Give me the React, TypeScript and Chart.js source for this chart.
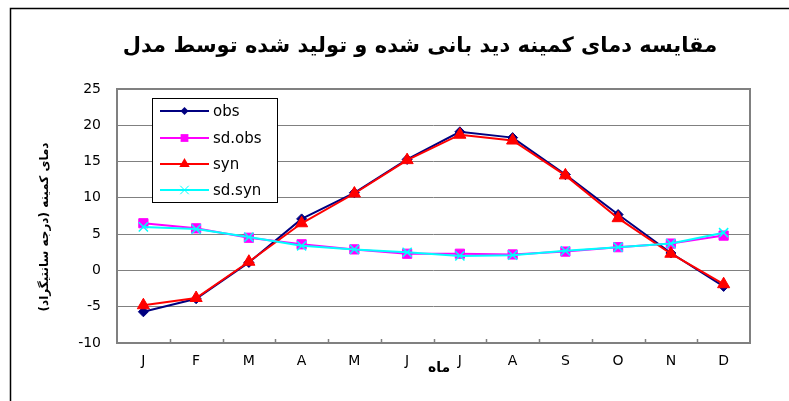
import React, { useEffect, useRef } from "react";
import { Chart, registerables } from "chart.js";

Chart.register(...registerables);

const months = ["J", "F", "M", "A", "M", "J", "J", "A", "S", "O", "N", "D"];
const obs = [-5.7, -3.9, 1.1, 7.1, 10.7, 15.3, 19.1, 18.3, 13.2, 7.7, 2.4, -2.2];
const sdObs = [6.5, 5.8, 4.5, 3.6, 2.9, 2.3, 2.3, 2.2, 2.6, 3.2, 3.7, 4.8];
const syn = [-4.8, -3.8, 1.2, 6.5, 10.6, 15.2, 18.7, 17.9, 13.1, 7.2, 2.3, -1.9];
const sdSyn = [6.0, 5.7, 4.6, 3.4, 2.9, 2.5, 2.0, 2.1, 2.7, 3.2, 3.7, 5.2];
const yTicks = [-10, -5, 0, 5, 10, 15, 20, 25];
const seriesNames = ["obs", "sd.obs", "syn", "sd.syn"];
const titleText = "مقایسه دمای کمینه دید بانی شده و تولید شده توسط مدل";
const yTitleText = "دمای کمینه (درجه سانتیگراد)";
const xTitleText = "ماه";

const COLORS = ["#000080", "#FF00FF", "#FF0000", "#00FFFF"];
const STYLES = ["rectRot", "rect", "triangle", "crossRot"];
const RADII = [5, 6.5, 7, 6.5];
const TICK_FONT = "'DejaVu Sans', sans-serif";

function drawMarker(ctx: CanvasRenderingContext2D, style: string, x: number, y: number, r: number, color: string) {
  ctx.save();
  ctx.fillStyle = color;
  ctx.strokeStyle = color;
  ctx.lineWidth = 1;
  ctx.beginPath();
  if (style === "rectRot") {
    ctx.moveTo(x - r, y);
    ctx.lineTo(x, y - r);
    ctx.lineTo(x + r, y);
    ctx.lineTo(x, y + r);
    ctx.closePath();
    ctx.fill();
  } else if (style === "rect") {
    const s = Math.SQRT1_2 * r;
    ctx.rect(x - s, y - s, 2 * s, 2 * s);
    ctx.fill();
  } else if (style === "triangle") {
    const a = (2 * Math.PI) / 3;
    ctx.moveTo(x, y - r);
    ctx.lineTo(x + Math.sin(a) * r, y - Math.cos(a) * r);
    ctx.lineTo(x - Math.sin(a) * r, y - Math.cos(a) * r);
    ctx.closePath();
    ctx.fill();
  } else {
    const s = Math.SQRT1_2 * r;
    ctx.moveTo(x - s, y - s);
    ctx.lineTo(x + s, y + s);
    ctx.moveTo(x + s, y - s);
    ctx.lineTo(x - s, y + s);
    ctx.stroke();
  }
  ctx.restore();
}

const decorPlugin = {
  id: "decor",
  beforeDraw(chart: any) {
    const ctx = chart.ctx as CanvasRenderingContext2D;
    ctx.save();
    ctx.fillStyle = "#ffffff";
    ctx.fillRect(0, 0, chart.width, chart.height);
    ctx.restore();
  },
  beforeDatasetsDraw(chart: any) {
    const ctx = chart.ctx as CanvasRenderingContext2D;
    const a = chart.chartArea;
    ctx.save();
    ctx.strokeStyle = "#808080";
    ctx.lineWidth = 2;
    ctx.strokeRect(a.left, a.top, a.right - a.left, a.bottom - a.top);
    const n = months.length;
    const w = (a.right - a.left) / n;
    ctx.lineWidth = 1.5;
    ctx.beginPath();
    for (let i = 1; i < n; i++) {
      const x = Math.round(a.left + i * w) + 0.5;
      ctx.moveTo(x, a.bottom);
      ctx.lineTo(x, a.bottom - 4);
    }
    ctx.stroke();
    ctx.restore();
  },
  afterDraw(chart: any) {
    const ctx = chart.ctx as CanvasRenderingContext2D;
    ctx.save();
    ctx.strokeStyle = "#000000";
    ctx.lineWidth = 1.5;
    ctx.beginPath();
    ctx.moveTo(10.5, chart.height);
    ctx.lineTo(10.5, 8.5);
    ctx.lineTo(chart.width, 8.5);
    ctx.stroke();

    ctx.fillStyle = "#000000";
    ctx.font = "bold 21px 'DejaVu Sans'";
    ctx.textAlign = "center";
    ctx.textBaseline = "middle";
    ctx.direction = "rtl";
    ctx.fillText(titleText, 420, 47);

    ctx.save();
    ctx.translate(45, 227);
    ctx.rotate(-Math.PI / 2);
    ctx.font = "bold 12px 'DejaVu Sans'";
    ctx.fillText(yTitleText, 0, 0);
    ctx.restore();

    ctx.font = "bold 14px 'DejaVu Sans'";
    ctx.fillText(xTitleText, 439, 368);
    ctx.direction = "ltr";

    const lx = 152.5, ly = 98.5, lw = 125, lh = 104;
    ctx.fillStyle = "#ffffff";
    ctx.fillRect(lx, ly, lw, lh);
    ctx.strokeStyle = "#000000";
    ctx.lineWidth = 1;
    ctx.strokeRect(lx, ly, lw, lh);
    const rowsY = [111, 138, 164, 190];
    const legendR = [4, 5.5, 6, 6];
    seriesNames.forEach((name, i) => {
      const y = rowsY[i];
      ctx.strokeStyle = COLORS[i];
      ctx.lineWidth = 2;
      ctx.beginPath();
      ctx.moveTo(160, y);
      ctx.lineTo(209, y);
      ctx.stroke();
      drawMarker(ctx, STYLES[i], 184.5, y, legendR[i], COLORS[i]);
      ctx.fillStyle = "#000000";
      ctx.font = "15px " + TICK_FONT;
      ctx.textAlign = "left";
      ctx.textBaseline = "middle";
      ctx.fillText(name, 213, y + 1);
    });
    ctx.restore();
  },
};

export default function App() {
  const canvasRef = useRef<HTMLCanvasElement | null>(null);

  useEffect(() => {
    const canvas = canvasRef.current;
    if (!canvas) return;
    const seriesData = [obs, sdObs, syn, sdSyn];
    const orders = [3, 2, 1, 0];
    const chart = new Chart(canvas, {
      type: "line",
      data: {
        labels: months,
        datasets: seriesNames.map((name, i) => ({
          label: name,
          data: seriesData[i],
          borderColor: COLORS[i],
          backgroundColor: COLORS[i],
          borderWidth: 2,
          pointStyle: STYLES[i] as any,
          pointRadius: RADII[i],
          pointBorderWidth: i === 3 ? 1.5 : 1,
          pointBackgroundColor: COLORS[i],
          pointBorderColor: COLORS[i],
          tension: 0,
          order: orders[i],
        })),
      },
      options: {
        responsive: false,
        animation: false,
        events: [],
        layout: { padding: { left: 0, top: 89, right: 39, bottom: 0 } },
        plugins: {
          legend: { display: false },
          title: { display: false },
          tooltip: { enabled: false },
        },
        scales: {
          x: {
            type: "category",
            offset: true,
            grid: { display: false, drawTicks: false },
            border: { display: false },
            ticks: {
              color: "#000000",
              font: { family: TICK_FONT, size: 14 },
              padding: 10,
              maxRotation: 0,
              autoSkip: false,
            },
            afterFit: (scale: any) => {
              scale.height = 58;
            },
          },
          y: {
            min: -10,
            max: 25,
            grid: { color: "#808080", lineWidth: 1, drawTicks: false },
            border: { display: false },
            ticks: {
              color: "#000000",
              font: { family: TICK_FONT, size: 14 },
              padding: 16,
              stepSize: 5,
            },
            afterBuildTicks: (scale: any) => {
              scale.ticks = yTicks.map((v) => ({ value: v }));
            },
            afterFit: (scale: any) => {
              scale.width = 117;
            },
          },
        },
      },
      plugins: [decorPlugin],
    });
    return () => chart.destroy();
  }, []);

  return (
    <div style={{ position: "absolute", left: 0, top: 0, width: 789, height: 401, background: "#fff" }}>
      <canvas ref={canvasRef} width={789} height={401} style={{ display: "block" }} />
    </div>
  );
}
